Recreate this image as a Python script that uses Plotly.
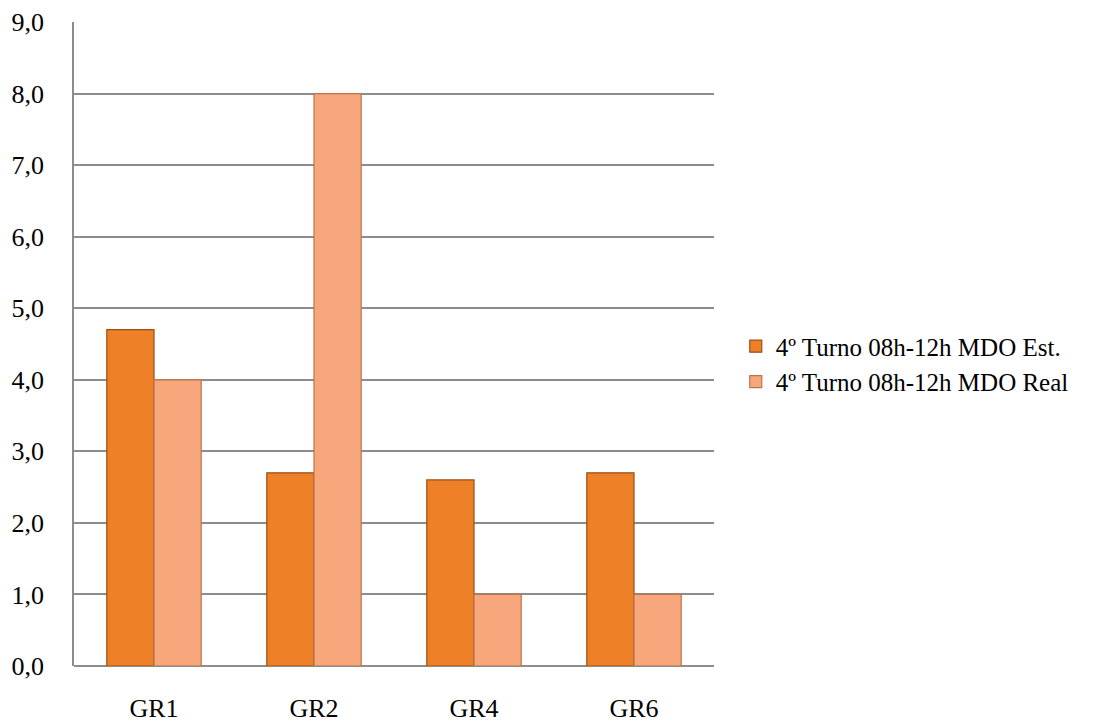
import plotly.graph_objects as go

categorias = ["GR1", "GR2", "GR4", "GR6"]
mdo_est = [4.7, 2.7, 2.6, 2.7]
mdo_real = [4.0, 8.0, 1.0, 1.0]
nome_est = "4º Turno 08h-12h MDO Est."
nome_real = "4º Turno 08h-12h MDO Real"

fonte = "Liberation Serif, Times New Roman, serif"

fig = go.Figure()
fig.add_trace(go.Bar(
    x=categorias, y=mdo_est, name=nome_est,
    marker=dict(color="#EE8027", line=dict(color="#9C4E12", width=1.2)),
))
fig.add_trace(go.Bar(
    x=categorias, y=mdo_real, name=nome_real,
    marker=dict(color="#F7A77B", line=dict(color="#B9754F", width=1.2)),
))

fig.update_layout(
    width=1096, height=724,
    margin=dict(l=74, r=382, t=22, b=58, autoexpand=False),
    paper_bgcolor="white", plot_bgcolor="white",
    barmode="group", bargap=0.41, bargroupgap=0,
    separators=",.",
    font=dict(family=fonte, size=26, color="black"),
    legend=dict(
        x=1.034, y=0.469, xanchor="left", yanchor="middle",
        font=dict(family=fonte, size=25), itemwidth=30,
    ),
    xaxis=dict(
        showgrid=False, showline=False, ticks="", automargin=False,
        tickfont=dict(size=26), ticklabelstandoff=24,
    ),
    yaxis=dict(
        range=[0, 9], dtick=1, tickformat=".1f", automargin=False,
        showgrid=True, gridcolor="#8C8C8C", gridwidth=1.6,
        showline=True, linecolor="#8C8C8C", linewidth=1.6,
        zeroline=True, zerolinecolor="#8C8C8C", zerolinewidth=2,
        ticks="outside", ticklen=0, tickfont=dict(size=26),
        ticklabelstandoff=23,
    ),
)

fig.write_html("out.html")
